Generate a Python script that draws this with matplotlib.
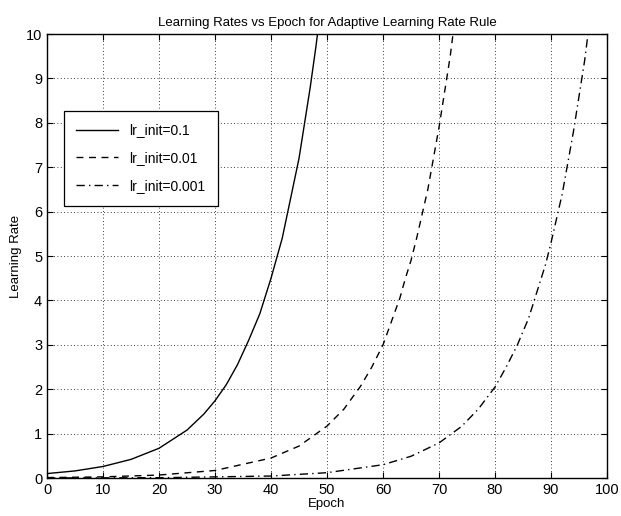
import matplotlib
matplotlib.use("Agg")
import matplotlib.pyplot as plt

plt.rcParams['font.family'] = ['Liberation Sans', 'DejaVu Sans']

# values
ep_a = [0, 5, 10, 15, 20, 25, 28, 30, 32, 34, 36, 38, 39, 40, 41, 42, 43, 44, 45, 46, 47, 48, 49]
lr_a = [0.10, 0.16, 0.26, 0.42, 0.67, 1.08, 1.44, 1.74, 2.1, 2.55, 3.1, 3.7, 4.1, 4.5, 4.95, 5.4,
        6.0, 6.6, 7.2, 8.0, 8.8, 9.7, 10.7]

ep_b = [0, 10, 20, 30, 40, 45, 50, 53, 56, 58, 60, 62, 63, 64, 65, 66, 67, 68, 69, 70, 71, 72, 73]
lr_b = [0.01, 0.026, 0.067, 0.17, 0.45, 0.72, 1.17, 1.55, 2.07, 2.5, 3.0, 3.7, 4.05, 4.5, 4.9,
        5.4, 5.95, 6.5, 7.2, 7.9, 8.7, 9.5, 10.5]

ep_c = [0, 20, 40, 50, 60, 65, 70, 74, 77, 80, 82, 84, 86, 87, 88, 89, 90, 91, 92, 93, 94, 95, 96, 97]
lr_c = [0.001, 0.007, 0.045, 0.12, 0.30, 0.49, 0.79, 1.16, 1.55, 2.05, 2.5, 3.0, 3.6, 4.0, 4.4,
        4.8, 5.3, 5.85, 6.4, 7.1, 7.8, 8.6, 9.4, 10.4]

labels = ['lr_init=0.1', 'lr_init=0.01', 'lr_init=0.001']
xticks = list(range(0, 101, 10))
yticks = list(range(0, 11))

fig = plt.figure(figsize=(6.21, 5.16), dpi=100)
ax = fig.add_axes([0.0757, 0.0736, 0.9018, 0.8604])

ax.plot(ep_a, lr_a, color='black', linestyle='-', linewidth=1.0, label=labels[0])
ax.plot(ep_b, lr_b, color='black', linestyle=(0, (5, 4)), linewidth=1.0, label=labels[1])
ax.plot(ep_c, lr_c, color='black', linestyle=(0, (6, 3, 1, 3)), linewidth=1.0, label=labels[2])

ax.set_xlim(0, 100)
ax.set_ylim(0, 10)
ax.set_xticks(xticks)
ax.set_yticks(yticks)
ax.tick_params(direction='in', top=True, right=True, labelsize=10.5, length=4, width=0.8)
ax.grid(True, linestyle=(0, (1, 3)), color='black', linewidth=0.6)
for sp in ax.spines.values():
    sp.set_linewidth(1.0)

ax.set_title('Learning Rates vs Epoch for Adaptive Learning Rate Rule', fontsize=9.5, pad=6)
ax.set_xlabel('Epoch', fontsize=9.5, labelpad=1)
ax.set_ylabel('Learning Rate', fontsize=9.5, labelpad=3)

leg = ax.legend(loc='upper left', bbox_to_anchor=(0.03, 0.827), fontsize=10,
                frameon=True, fancybox=False, edgecolor='black', framealpha=1,
                handlelength=3.0, borderpad=0.9, labelspacing=1.0, borderaxespad=0)
leg.get_frame().set_linewidth(0.9)

fig.savefig('out.png', dpi=100)
